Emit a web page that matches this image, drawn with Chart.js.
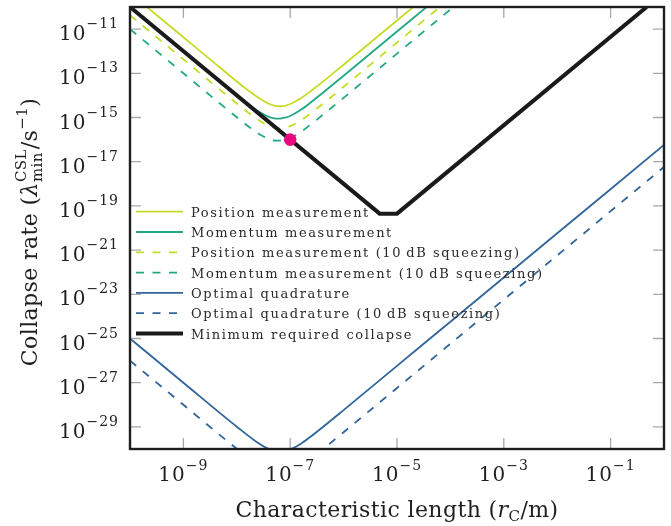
<!DOCTYPE html>
<html>
<head>
<meta charset="utf-8">
<script src="https://cdn.jsdelivr.net/npm/chart.js@4"></script>
<style>
  html, body { margin: 0; background: #fff; }
  #wrap { width: 671px; height: 526px; }
</style>
</head>
<body>
<div id="wrap"><canvas id="chart"></canvas></div>
<script>
// all values are log10 exponents
const rX = [-10, -9, -8.5, -8, -7.8, -7.6, -7.4, -7.3, -7.2, -7.1, -7.0, -6.8, -6.6, -6.4, -6, -5, -3.8];
const posMeas = [-9.37, -11.37, -12.37, -13.37, -13.75, -14.10, -14.38, -14.46, -14.49, -14.47, -14.39, -14.13, -13.78, -13.40, -12.61, -10.61, -8.21];
const momMeas = [-10, -12, -13, -13.99, -14.37, -14.72, -14.97, -15.04, -15.05, -15.01, -14.93, -14.65, -14.29, -13.90, -13.11, -11.11, -8.71];
const posSqueezed = [-10.37, -12.37, -13.37, -14.37, -14.75, -15.10, -15.38, -15.46, -15.49, -15.47, -15.39, -15.13, -14.78, -14.40, -13.61, -11.61, -9.21];
const momSqueezed = [-11, -13, -14, -14.99, -15.37, -15.72, -15.97, -16.04, -16.05, -16.01, -15.93, -15.65, -15.29, -14.90, -14.11, -12.11, -9.71];

const optX = [-10, -9, -8, -7.6, -7.4, -7.2, -7.0, -6.8, -6.6, -6.4, -6, -5, -4, -2, 0];
const optQuad = [-25, -27, -28.99, -29.73, -30.0, -30.12, -30.02, -29.76, -29.41, -29.03, -28.24, -26.24, -24.24, -20.24, -16.24];
const optSqueezed = [-26, -28, -29.99, -30.73, -31.0, -31.12, -31.02, -30.76, -30.41, -30.03, -29.24, -27.24, -25.24, -21.24, -17.24];

const minX = [-10, -5.325, -5.0, -0.325];
const minCollapse = [-10, -19.35, -19.35, -10];

const markX = [-7];
const markY = [-16];

const xTicks = [-9, -7, -5, -3, -1];
const yTicks = [-11, -13, -15, -17, -19, -21, -23, -25, -27, -29];

const labels = [
  "Position measurement",
  "Momentum measurement",
  "Position measurement (10\u2009dB squeezing)",
  "Momentum measurement (10\u2009dB squeezing)",
  "Optimal quadrature",
  "Optimal quadrature (10\u2009dB squeezing)",
  "Minimum required collapse"
];

const YELLOW = "#c6dc24", TEAL = "#22a884", BLUE = "#30659a", BLACK = "#1a1a1a";
const DASH = [8, 8.5];
const SERIF = '"DejaVu Serif", serif';

const pts = (xs, ys) => xs.map((e, i) => ({ x: Math.pow(10, e), y: Math.pow(10, ys[i]) }));

function curve(label, xs, ys, color, dashed, order) {
  return {
    label, data: pts(xs, ys), borderColor: color, borderWidth: 1.8,
    borderDash: dashed ? DASH : [], pointRadius: 0, fill: false,
    cubicInterpolationMode: "monotone", clip: 0, order
  };
}

const datasets = [
  curve(labels[0], rX, posMeas, YELLOW, false, 7),
  curve(labels[1], rX, momMeas, TEAL, false, 6),
  curve(labels[2], rX, posSqueezed, YELLOW, true, 5),
  curve(labels[3], rX, momSqueezed, TEAL, true, 4),
  curve(labels[4], optX, optQuad, BLUE, false, 3),
  curve(labels[5], optX, optSqueezed, BLUE, true, 2),
  {
    label: labels[6], data: pts(minX, minCollapse), borderColor: BLACK, borderWidth: 4,
    pointRadius: 0, tension: 0, clip: 0, order: 1, borderJoinStyle: "miter"
  },
  {
    label: "mark", data: pts(markX, markY), showLine: false, pointRadius: 6.3,
    pointBackgroundColor: "#e8077f", pointBorderWidth: 0, order: 0
  }
];

// draws a run of text pieces; piece = {t, size, it, dy, stack}
function richText(ctx, parts, x, y, align) {
  let cx = 0, lastStart = 0, lastW = 0;
  const placed = parts.map(p => {
    ctx.font = (p.it ? "italic " : "") + p.size + "px " + SERIF;
    const w = ctx.measureText(p.t).width;
    let pos;
    if (p.stack) {
      pos = lastStart;
      lastW = Math.max(lastW, w);
      cx = lastStart + lastW;
    } else {
      pos = cx;
      lastStart = cx;
      lastW = w;
      cx += w;
    }
    return { p, pos };
  });
  const off = align === "right" ? -cx : align === "center" ? -cx / 2 : 0;
  placed.forEach(({ p, pos }) => {
    ctx.font = (p.it ? "italic " : "") + p.size + "px " + SERIF;
    ctx.fillText(p.t, x + off + pos, y + (p.dy || 0));
  });
}

const decorations = {
  id: "decorations",
  afterDatasetsDraw(chart) {
    const { ctx, chartArea: a, scales: { x, y } } = chart;
    ctx.save();

    // inward ticks on all sides
    ctx.strokeStyle = "#a8a8a8";
    ctx.lineWidth = 1.3;
    ctx.beginPath();
    xTicks.forEach(e => {
      const px = x.getPixelForValue(Math.pow(10, e));
      ctx.moveTo(px, a.bottom); ctx.lineTo(px, a.bottom - 11);
      ctx.moveTo(px, a.top); ctx.lineTo(px, a.top + 11);
    });
    yTicks.forEach(e => {
      const py = y.getPixelForValue(Math.pow(10, e));
      ctx.moveTo(a.left, py); ctx.lineTo(a.left + 11, py);
      ctx.moveTo(a.right, py); ctx.lineTo(a.right - 11, py);
    });
    ctx.stroke();

    // frame
    ctx.strokeStyle = "#1f1f1f";
    ctx.lineWidth = 2.4;
    ctx.strokeRect(a.left, a.top, a.right - a.left, a.bottom - a.top);

    ctx.fillStyle = "#1f1f1f";
    ctx.textBaseline = "alphabetic";
    ctx.letterSpacing = "1px";

    // tick labels
    yTicks.forEach(e => {
      const py = y.getPixelForValue(Math.pow(10, e));
      richText(ctx, [{ t: "10", size: 20 }, { t: "\u2212" + (-e), size: 14, dy: -12 }], a.left - 11, py + 11, "right");
    });
    xTicks.forEach(e => {
      const px = x.getPixelForValue(Math.pow(10, e));
      richText(ctx, [{ t: "10", size: 20 }, { t: "\u2212" + (-e), size: 14, dy: -11 }], px, a.bottom + 32, "center");
    });

    // axis titles
    ctx.letterSpacing = "0.4px";
    richText(ctx, [
      { t: "Characteristic length (", size: 22 },
      { t: "r", size: 22, it: true },
      { t: "C", size: 15, dy: 4 },
      { t: "/m)", size: 22 }
    ], (a.left + a.right) / 2, 517, "center");

    ctx.save();
    ctx.translate(37, 232);
    ctx.rotate(-Math.PI / 2);
    richText(ctx, [
      { t: "Collapse rate (", size: 22 },
      { t: "\u03bb", size: 22, it: true },
      { t: "min", size: 15, dy: 5 },
      { t: "CSL", size: 15, dy: -11, stack: true },
      { t: "/s", size: 22 },
      { t: "\u22121", size: 15, dy: -10 },
      { t: ")", size: 22 }
    ], 0, 0, "center");
    ctx.restore();

    // legend
    ctx.letterSpacing = "1.6px";
    ctx.font = "13px " + SERIF;
    datasets.slice(0, 7).forEach((d, i) => {
      const ly = 211.7 + i * 20.3;
      ctx.beginPath();
      ctx.strokeStyle = d.borderColor;
      ctx.lineWidth = d.borderWidth;
      ctx.setLineDash(d.borderDash || []);
      ctx.moveTo(a.left + 6, ly);
      ctx.lineTo(a.left + 53, ly);
      ctx.stroke();
      ctx.setLineDash([]);
      ctx.fillStyle = "#2a2a2a";
      ctx.fillText(d.label, a.left + 61, ly + 5);
    });

    ctx.restore();
  }
};

new Chart(document.getElementById("chart"), {
  type: "line",
  data: { datasets },
  options: {
    responsive: true,
    maintainAspectRatio: false,
    animation: false,
    devicePixelRatio: 1,
    layout: { padding: { left: 130, right: 7, top: 7, bottom: 77 } },
    plugins: { legend: { display: false }, tooltip: { enabled: false } },
    scales: {
      x: { type: "logarithmic", min: 1e-10, max: 1, display: false },
      y: { type: "logarithmic", min: 1e-30, max: 1e-10, display: false }
    }
  },
  plugins: [decorations]
});
</script>
</body>
</html>
